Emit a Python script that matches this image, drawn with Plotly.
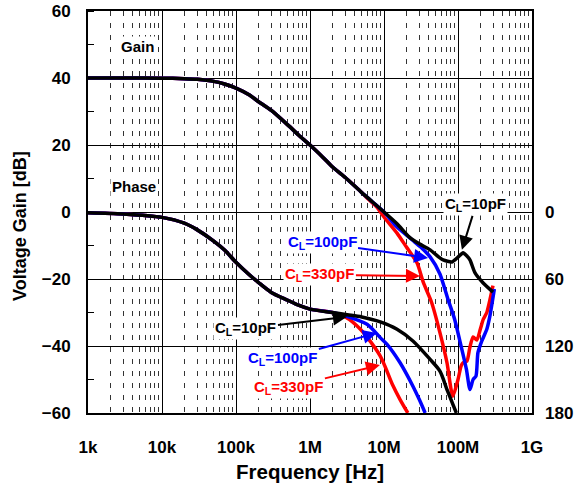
import numpy as np
import plotly.graph_objects as go

# ---------------- data ----------------
# Gain, common part (all three load capacitances overlap)
f_gain_common = [1e3, 3e3, 1e4, 2e4, 3e4, 5e4, 7e4, 1e5, 1.5e5, 2e5, 3e5, 5e5, 7e5,
                 1e6, 1.5e6, 2e6, 3e6, 5e6]
g_gain_common = [40, 40, 39.95, 39.8, 39.6, 39.0, 38.2, 37.0, 35.0, 33.0, 30.3, 26.0, 23.0,
                 20.0, 16.3, 13.5, 10.3, 5.8]

# Gain tails
f_gain_10p = [7e6, 1e7, 1.5e7, 2.2e7, 3e7, 4.2e7, 5.7e7, 6.3e7, 8.3e7, 1e8, 1.17e8, 1.3e8,
              1.45e8, 1.7e8, 2.19e8, 2.97e8]
g_gain_10p = [3.0, 0.0, -3.5, -7.5, -9.5, -11.3, -13.7, -14.3, -14.9, -13.5, -12.2, -13.0,
              -14.3, -18.2, -21.2, -23.9]

f_gain_100p = [7e6, 1e7, 1.5e7, 2.46e7, 3.1e7, 4.2e7, 5.7e7, 7.3e7, 9e7, 1.1e8, 1.3e8, 1.45e8,
               1.6e8, 1.75e8, 1.86e8, 2.1e8, 2.45e8, 2.7e8, 3.1e8]
g_gain_100p = [3.0, 0.0, -4.5, -8.5, -10.4, -13.4, -18.5, -26.0, -32.0, -40.0, -47.0, -53.0,
               -50.0, -49.0, -42.0, -38.5, -35.0, -31.0, -23.0]

f_gain_330p = [6e6, 8e6, 1e7, 1.5e7, 2e7, 2.8e7, 3.4e7, 4.4e7, 5.7e7, 7.1e7, 8.5e7, 1e8,
               1.1e8, 1.17e8, 1.32e8, 1.45e8, 1.6e8, 1.8e8, 2e8, 2.2e8, 2.45e8, 2.97e8]
g_gain_330p = [4.0, 1.5, -1.5, -6.3, -10.4, -15.2, -21.0, -27.0, -36.0, -45.0, -55.0, -50.0,
               -46.0, -45.0, -44.5, -40.3, -37.3, -38.2, -35.0, -32.0, -30.0, -22.0]

# Phase (degrees of lag), common part
f_ph_common = [1e3, 3e3, 1e4, 2e4, 3e4, 5e4, 7e4, 1e5, 1.5e5, 2e5, 3e5, 5e5, 7e5, 1e6, 2e6]
p_ph_common = [0.6, 1.7, 4.8, 10.0, 16.0, 26.0, 34.0, 45.0, 56.0, 63.0, 72.0, 79.0, 83.5, 87.0, 90.0]

f_ph_10p = [3.2e6, 5e6, 8.9e6, 1.5e7, 2.46e7, 4.2e7, 5.7e7, 7.1e7, 8.5e7, 9.5e7]
p_ph_10p = [92.0, 94.0, 98.4, 105.0, 115.5, 132.0, 142.5, 159.0, 172.0, 180.0]

f_ph_100p = [3e6, 5.9e6, 8.9e6, 1.1e7, 1.65e7, 2.46e7, 3e7, 3.6e7]
p_ph_100p = [93.0, 100.5, 112.5, 118.5, 135.0, 156.0, 168.0, 180.0]

f_ph_330p = [3e6, 4.8e6, 8.9e6, 1.3e7, 1.65e7, 2.1e7]
p_ph_330p = [94.0, 105.0, 129.0, 154.5, 168.0, 180.0]

x_tick_vals = [1e3, 1e4, 1e5, 1e6, 1e7, 1e8, 1e9]
x_tick_text = ["1k", "10k", "100k", "1M", "10M", "100M", "1G"]
y_tick_vals = [-60, -40, -20, 0, 20, 40, 60]
y2_tick_vals = [0, 60, 120, 180]

series = [
    ("10pF", "black", f_gain_10p, g_gain_10p, f_ph_10p, p_ph_10p),
    ("100pF", "#0000ff", f_gain_100p, g_gain_100p, f_ph_100p, p_ph_100p),
    ("330pF", "#ff0000", f_gain_330p, g_gain_330p, f_ph_330p, p_ph_330p),
]

fig = go.Figure()
LW = 3.5
# draw red first, black last (black on top)
for name, col, fg, gg, fp, pp in reversed(series):
    fig.add_trace(go.Scatter(x=f_gain_common + fg, y=g_gain_common + gg, mode="lines",
                             line=dict(color=col, width=LW, shape="spline", smoothing=0.6),
                             showlegend=False, yaxis="y"))
    fig.add_trace(go.Scatter(x=f_ph_common + fp, y=p_ph_common + pp, mode="lines",
                             line=dict(color=col, width=LW, shape="spline", smoothing=0.8),
                             showlegend=False, yaxis="y2"))

bold = dict(family="Liberation Sans, Arial, sans-serif", size=17, color="black", weight="bold")

fig.update_layout(
    width=584, height=490,
    margin=dict(l=88, r=52, t=11, b=77),
    paper_bgcolor="white", plot_bgcolor="white",
    xaxis=dict(type="log", range=[3, 9], tickvals=x_tick_vals, ticktext=x_tick_text,
               showgrid=True, gridcolor="black", gridwidth=1, automargin=False,
               showline=True, linecolor="black", linewidth=2, mirror=True,
               ticks="", tickfont=bold, ticklabelstandoff=18, zeroline=False,
               minor=dict(dtick="D1", showgrid=True, gridcolor="#333",
                          griddash="5px,7px", gridwidth=1, ticks="")),
    yaxis=dict(range=[-60, 60], tickvals=y_tick_vals, showgrid=True, gridcolor="black",
               gridwidth=1, showline=True, linecolor="black", linewidth=2, mirror=True,
               ticks="", tickfont=bold, ticklabelstandoff=12, zeroline=False, automargin=False,
               minor=dict(dtick=10, ticks="inside", ticklen=6, tickcolor="black",
                          tickwidth=1, showgrid=False)),
    yaxis2=dict(range=[180, -180], overlaying="y", side="right", tickvals=y2_tick_vals,
                showgrid=False, ticks="", tickfont=bold, ticklabelstandoff=12,
                zeroline=False, showline=False, automargin=False),
)

# axis titles
fig.add_annotation(text="Frequency [Hz]", xref="paper", yref="paper", x=0.5, y=0,
                   yanchor="middle", xanchor="center", yshift=-58, showarrow=False,
                   font=dict(family="Liberation Sans, Arial", size=20.5, color="black", weight="bold"))
fig.add_annotation(text="Voltage Gain [dB]", xref="paper", yref="paper", x=0, y=0.5,
                   xanchor="center", yanchor="middle", xshift=-68, yshift=-14,
                   textangle=-90, showarrow=False,
                   font=dict(family="Liberation Sans, Arial", size=18, color="black", weight="bold"))

lab = dict(family="Liberation Sans, Arial", size=15, weight="bold")
fig.add_annotation(text="Gain", x=np.log10(4.6e3), y=49.3, showarrow=False,
                   bgcolor="white", font=dict(lab, color="black"))
fig.add_annotation(text="Phase", x=np.log10(4.2e3), y=7.5, showarrow=False,
                   bgcolor="white", font=dict(lab, color="black"))

arrows = [
    ("C<sub>L</sub>=10pF", "black", 1.13e8, -11.3, 14, -45),
    ("C<sub>L</sub>=100pF", "#0000ff", 3.94e7, -13.7, -106, -15),
    ("C<sub>L</sub>=330pF", "#ff0000", 3.06e7, -19.1, -100, -1),
    ("C<sub>L</sub>=10pF", "black", 3.16e6, -31.3, -101, 12),
    ("C<sub>L</sub>=100pF", "#0000ff", 8.0e6, -36.1, -94, 26),
    ("C<sub>L</sub>=330pF", "#ff0000", 8.8e6, -45.7, -91, 22),
]
for txt, col, fx, gy, ax, ay in arrows:
    fig.add_annotation(text=txt, x=np.log10(fx), y=gy, ax=ax, ay=ay,
                       showarrow=True, arrowhead=2, arrowsize=1.4, arrowwidth=2,
                       arrowcolor=col, bgcolor="white", font=dict(lab, color=col))

fig.write_html("out.html")
